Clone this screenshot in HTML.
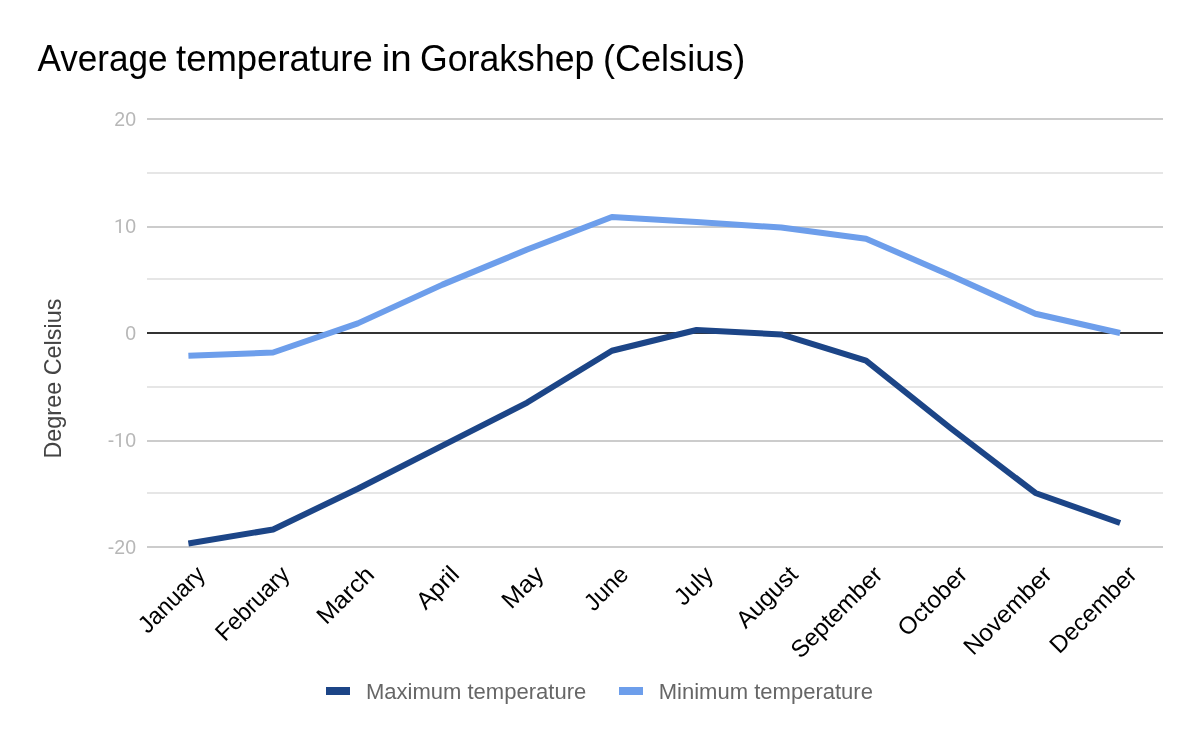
<!DOCTYPE html>
<html><head><meta charset="utf-8"><style>
html,body{margin:0;padding:0;background:#fff;width:1200px;height:742px;overflow:hidden}
svg{display:block;font-family:"Liberation Sans",sans-serif;will-change:transform}
</style></head><body>
<svg width="1200" height="742" viewBox="0 0 1200 742">
<rect width="1200" height="742" fill="#fff"/>
<text transform="translate(37.40,71) scale(0.9489,1)" font-size="37" fill="#000">Average</text>
<text transform="translate(176.01,71) scale(0.9860,1)" font-size="37" fill="#000">temperature</text>
<text transform="translate(381.67,71) scale(1.0417,1)" font-size="37" fill="#000">in</text>
<text transform="translate(420.07,71) scale(0.9633,1)" font-size="37" fill="#000">Gorakshep</text>
<text transform="translate(603.05,71) scale(0.9739,1)" font-size="37" fill="#000">(Celsius)</text>
<rect x="147" y="118" width="1016" height="2" fill="#cccccc"/>
<rect x="147" y="172" width="1016" height="2" fill="#e6e6e6"/>
<rect x="147" y="226" width="1016" height="2" fill="#cccccc"/>
<rect x="147" y="278" width="1016" height="2" fill="#e6e6e6"/>
<rect x="147" y="386" width="1016" height="2" fill="#e6e6e6"/>
<rect x="147" y="440" width="1016" height="2" fill="#cccccc"/>
<rect x="147" y="492" width="1016" height="2" fill="#e6e6e6"/>
<rect x="147" y="546" width="1016" height="2" fill="#cccccc"/>
<text x="136" y="126" font-size="19.5" fill="#b7b7b7" text-anchor="end">20</text>
<text x="136" y="233" font-size="19.5" fill="#b7b7b7" text-anchor="end">0</text>
<path transform="translate(120.9,233)" d="M0,0H-1.77V-11.76L-5.33,-10.45V-12.06L-0.28,-14.08H0Z" fill="#b7b7b7"/>
<text x="136" y="340" font-size="19.5" fill="#b7b7b7" text-anchor="end">0</text>
<text x="136" y="447" font-size="19.5" fill="#b7b7b7" text-anchor="end">0</text>
<path transform="translate(120.9,447)" d="M0,0H-1.77V-11.76L-5.33,-10.45V-12.06L-0.28,-14.08H0Z" fill="#b7b7b7"/>
<text x="107.82" y="447" font-size="19.5" fill="#b7b7b7">-</text>
<text x="136" y="554" font-size="19.5" fill="#b7b7b7" text-anchor="end">-20</text>
<text transform="translate(60.8,378.6) rotate(-90)" font-size="23.4" fill="#444" text-anchor="middle">Degree Celsius</text>
<text transform="translate(206.40,576) rotate(-45) scale(0.97,1)" font-size="24" fill="#000" text-anchor="end">January</text>
<text transform="translate(291.10,576) rotate(-45) scale(0.974,1)" font-size="24" fill="#000" text-anchor="end">February</text>
<text transform="translate(375.80,576) rotate(-45) scale(1.053,1)" font-size="24" fill="#000" text-anchor="end">March</text>
<text transform="translate(460.50,576) rotate(-45) scale(1.023,1)" font-size="24" fill="#000" text-anchor="end">April</text>
<text transform="translate(545.20,576) rotate(-45) scale(1.057,1)" font-size="24" fill="#000" text-anchor="end">May</text>
<text transform="translate(629.90,576) rotate(-45) scale(0.984,1)" font-size="24" fill="#000" text-anchor="end">June</text>
<text transform="translate(714.60,576) rotate(-45) scale(1.02,1)" font-size="24" fill="#000" text-anchor="end">July</text>
<text transform="translate(799.30,576) rotate(-45) scale(1.013,1)" font-size="24" fill="#000" text-anchor="end">August</text>
<text transform="translate(884.00,576) rotate(-45) scale(1.007,1)" font-size="24" fill="#000" text-anchor="end">September</text>
<text transform="translate(968.70,576) rotate(-45) scale(1.019,1)" font-size="24" fill="#000" text-anchor="end">October</text>
<text transform="translate(1053.40,576) rotate(-45) scale(1.025,1)" font-size="24" fill="#000" text-anchor="end">November</text>
<text transform="translate(1138.10,576) rotate(-45) scale(1.008,1)" font-size="24" fill="#000" text-anchor="end">December</text>
<rect x="147" y="332" width="1016" height="2" fill="#333333"/>
<polyline points="188.40,355.79 273.10,352.47 357.80,323.37 442.50,284.64 527.20,249.54 611.90,217.01 696.60,222.04 781.30,227.50 866.00,238.73 950.70,275.43 1035.40,313.74 1120.10,333.00" fill="none" stroke="#6d9eeb" stroke-width="6" stroke-linejoin="round"/>
<polyline points="188.40,543.47 273.10,529.45 357.80,488.79 442.50,445.56 527.20,402.55 611.90,350.76 696.60,330.00 781.30,334.39 866.00,360.61 950.70,428.23 1035.40,492.96 1120.10,523.03" fill="none" stroke="#1c4587" stroke-width="6" stroke-linejoin="round"/>
<rect x="326" y="687" width="24" height="8" fill="#1c4587"/>
<text transform="translate(365.95,698.75) scale(0.9704,1)" font-size="22.7" fill="#666">Maximum temperature</text>
<rect x="619" y="687" width="24" height="8" fill="#6d9eeb"/>
<text transform="translate(658.7,698.75) scale(0.9712,1)" font-size="22.7" fill="#666">Minimum temperature</text>
</svg>
</body></html>
